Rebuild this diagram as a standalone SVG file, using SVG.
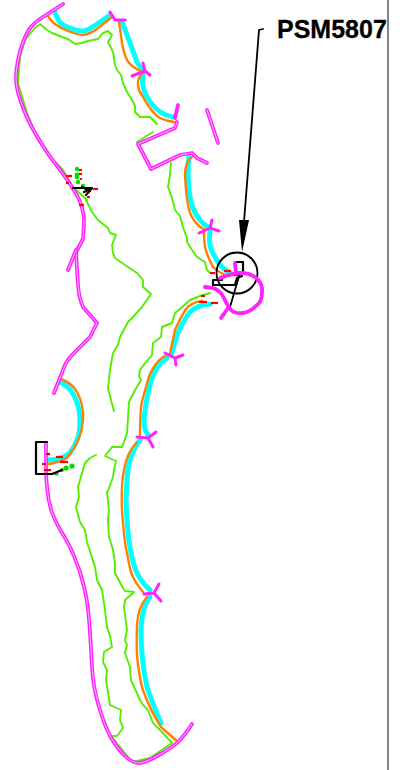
<svg xmlns="http://www.w3.org/2000/svg" width="400" height="770" viewBox="0 0 400 770">
<style>
path,polyline,line{fill:none;stroke-linejoin:round;stroke-linecap:round}
.c{stroke:#00ffff;stroke-width:5}
.o{stroke:#ff8000;stroke-width:2.4}
.g{stroke:#55ee00;stroke-width:1.9}
.m{stroke:#ff22ff;stroke-width:3.8}
.i{stroke:#ffb4ff;stroke-width:1}
.t{stroke:#ff22ff;stroke-width:3}
.h{stroke:#ff22ff;stroke-width:3.8}
.k{stroke:#000;stroke-width:2.2}
.r{stroke:#ff0000;stroke-width:2.2;stroke-linecap:butt}
.d{fill:#00dd00}
</style>
<defs>
<path id="coastA" d="M63,4 L41.5,18 Q35,22 31,27 Q27,32 23.5,41 Q20,50 18,60 Q16,70 16,77.5 Q16,85 18,92.5 Q20,100 23.5,109 Q27,118 31.5,126.5 Q36,135 43,146 Q50,157 56,164.5 Q62,172 67,179.5 Q72,187 76,193.5 Q80,200 82,207.5 Q84,215 84,220 Q84,225 83.5,232 L83,239 L76,252 L78,285 Q79,298 83,307 L97,323 L90,337 L72,355 Q66,361 63,370 L54,393"/>
<path id="coastB" d="M46,443 L46,470 Q46,478 47,486.5 Q48,500 51.5,511 Q55,522 61.5,532 Q68,542 74,556 Q80,570 84,586.5 Q88,603 89.5,625 Q91,647 92,667 Q93,687 99,707 Q105,727 111,737.5 Q117,748 124.5,755.5 Q132,763 138.5,763 Q145,763 159,755 Q173,747 179,741 Q185,735 192,724"/>
<path id="spur" d="M76,250 L68,270"/>
<path id="box" d="M177,122 L175,128 L138,144 L151,169 L180,155 L192,153 L197,158 L207,163"/>
<path id="bar" d="M207,110 L218,143"/>
</defs>
<g id="water">
<path class="c" d="M55,12 Q58,22 63,25 Q68,28 75,30 Q82,32 87,30 Q92,28 110,15"/>
<path class="c" d="M122,22 L130,43 L137,62 Q139,66 143,70"/>
<path class="c" d="M143,75 Q141,85 146,95 Q150,103 156.5,109 Q163,115 173,117"/>
<path class="c" d="M189,157 Q187,170 189,190 Q191,210 200,220 Q204,225 208,227"/>
<path class="c" d="M210,232 Q208,247 214,255 Q220,268 230,273"/>
<path class="c" d="M210,304 Q197,305 190,312 Q183,321 178,333 L171,355"/>
<path class="c" d="M167,358 Q157,364 152,378 Q146,397 144,420 Q144,430 148,435"/>
<path class="c" d="M140,440 Q128,455 127,480 L126,500 Q127,530 130,547 Q133,565 137,573 Q142,583 150,590"/>
<path class="c" d="M150,597 Q142,607 141,630 Q141,660 147,687 Q152,702 161,723"/>
<path class="c" d="M60,382 Q68,386 72,392 Q80,405 80,420 Q81,438 70,453 Q62,460 47,460"/>
</g>
<g id="edge">
<path class="o" d="M48,16 Q52,22 55,24 Q60,28 68,31 Q78,35 83,35 Q90,34 97,29 L112,17"/>
<path class="o" d="M119,22 Q121,34 122,43 Q124,54 127,60 Q130,66 142,72"/>
<path class="o" d="M142,73 Q137,80 138,85 Q139,92 142,95 Q146,103 150,108 Q155,115 160,118 Q166,121 174,122"/>
<path class="o" d="M192,157 Q185,162 185,175 Q186,200 190,213 Q195,225 205,230"/>
<path class="o" d="M204,230 Q204,240 205,247 Q208,258 213,267 Q220,274 230,276"/>
<path class="o" d="M202,301 Q192,302 186,309 Q180,318 175,330 L170,353"/>
<path class="o" d="M167,355 Q160,358 156,364 Q149,374 148,380 Q142,400 141,407 Q140,420 140,435"/>
<path class="o" d="M137,442 Q127,452 124,470 Q121,485 122,510 Q124,540 127,553 Q130,570 132,575 Q136,584 143,592"/>
<path class="o" d="M147,597 Q138,607 137,625 Q136,650 138,665 Q141,685 143,690 Q150,710 161,727 L178,742"/>
<path class="o" d="M61,379 Q72,383 77,392 Q84,405 83,420 Q82,440 67,458 Q58,463 48,464"/>
</g>
<g id="contours">
<polyline class="g" points="157,124 150,117 140,117 135,112 135,106 132,100 127,92 123,83 121,75 117,70 115,65 113,52 108,42 112,35 108,31 103,33 98,39 88,41 82,43 75,44 68,39 62,37 52,33 47,30 40,24 35,28 25,40 20,57 18,83 27,113 37,137 50,157 63,170 73,187 87,200"/>
<polyline class="g" points="137,142 153,132"/>
<polyline class="g" points="171,163 170,175 168,187 172,198 175,210 180,216 183,227 187,238 187,242 192,250 197,257 205,262 207,270 210,273"/>
<polyline class="g" points="86,200 92,212 98,220 108,228 110,233 116,235 112,245 113,253 115,258 125,265 137,273 143,280 143,287 151,294 142,307 133,317 128,322 120,337 118,345 113,353 110,370 108,388 111,400 114,411"/>
<polyline class="g" points="210,293 200,296 190,300 180,309 175,313 172,323 162,327 161,337 153,343 152,355 146,362 140,370 139,376 141,380 134,392 129,402 128,418 127,433 124,442 122,447 112,447 105,456 116,461 114,470 113,477 108,491 107,492 109,510 108,520 109,537 113,550 115,563 115,573 123,588 125,591 134,592 125,600 124,607 127,630 125,640 127,645 125,653 130,667 131,680 140,700 143,705 148,710 153,723 163,733 172,743 150,758 132,762 112,737"/>
<polyline class="g" points="96,455 90,458 85,463 80,480 78,487 79,497 76,507 80,522 85,530 87,542 95,567 97,580 102,590 105,610 107,627 110,636 112,647 104,652 103,662 107,670 106,680 110,705 121,710 120,720 123,728 117,736 112,736"/>
</g>
<g id="coast">
<use href="#coastA" class="m"/><use href="#coastA" class="i"/>
<use href="#coastB" class="m"/><use href="#coastB" class="i"/>
<use href="#spur" class="m"/><use href="#spur" class="i"/>
<use href="#box" class="m"/><use href="#box" class="i"/>
<use href="#bar" class="m"/><use href="#bar" class="i"/>
<polyline class="t" points="110,12 115,20 125,20"/>
<polyline class="m" points="175,118 178,105"/>
<polyline class="t" points="132,76 145,71 143,63 145,71 150,75"/>
<polyline class="t" points="199,233 210,228 212,220 210,228 219,231"/>
<polyline class="t" points="165,353 175,358 183,355 175,358 176,365"/>
<polyline class="t" points="137,437 148,438 156,432 148,438 153,447"/>
<polyline class="t" points="144,594 154,593 159,584 154,593 161,601"/>
</g>
<g id="markers">
<line class="r" x1="66" y1="176" x2="72" y2="176"/><line class="r" x1="79" y1="170" x2="82" y2="170"/><line class="r" x1="79" y1="174" x2="82" y2="174"/><line class="r" x1="80" y1="179" x2="82" y2="179"/><line class="r" x1="66" y1="183" x2="69" y2="183"/><line class="r" x1="93" y1="189" x2="98" y2="189"/><line class="r" x1="87" y1="197" x2="90" y2="197"/><line class="r" x1="79" y1="205" x2="84" y2="205"/>
<line class="r" x1="46" y1="454" x2="50" y2="454"/><line class="r" x1="56" y1="457" x2="63" y2="457"/><line class="r" x1="42" y1="464" x2="46" y2="464"/><line class="r" x1="60" y1="462" x2="68" y2="462"/><line class="r" x1="44" y1="470" x2="51" y2="470"/><line class="r" x1="55" y1="474" x2="58" y2="474"/>
<line class="r" x1="210" y1="273" x2="215" y2="273"/><line class="r" x1="224" y1="271" x2="231" y2="271"/><line class="r" x1="230" y1="275" x2="238" y2="275"/><line class="r" x1="201" y1="296" x2="205" y2="296"/><line class="r" x1="199" y1="302" x2="207" y2="302"/><line class="r" x1="211" y1="303" x2="218" y2="303"/><line class="r" x1="221" y1="315" x2="225" y2="315"/><line class="r" x1="252" y1="277" x2="257" y2="277"/>
<circle class="d" cx="77" cy="169" r="2.2"/><circle class="d" cx="77" cy="175" r="2.4"/><circle class="d" cx="77" cy="177" r="2.4"/><circle class="d" cx="78" cy="182" r="2.2"/><circle class="d" cx="83" cy="186" r="2.2"/>
<circle class="d" cx="72" cy="466" r="2.6"/><circle class="d" cx="66" cy="468" r="2.6"/><circle class="d" cx="62" cy="470" r="2"/><circle class="d" cx="57" cy="474" r="1.6"/>
<polyline class="k" points="73,188 92,188 86,195"/><polyline class="k" points="82,187 90,191"/><polyline class="k" points="84,192 90,189"/>
<polyline class="k" points="47,442 36,442 36,474 52,474 62,470"/>
<polyline class="k" points="236,262 243,262 243,272"/>
<polyline class="k" points="222,280 213,280 213,285 235,285 237,278 242,276"/>
</g>
<g id="callout">
<polyline points="263,29 259,30 244,222" style="fill:none;stroke:#000;stroke-width:1.8"/>
<polygon points="239,220 249,220 242,252" fill="#000"/>
<circle cx="237" cy="273" r="20.5" fill="none" stroke="#000" stroke-width="1.8"/>
<line x1="240" y1="273" x2="230" y2="307" stroke="#000" stroke-width="1.8"/>
<text x="277" y="38" font-family="'Liberation Sans',Arial,sans-serif" font-weight="700" font-size="25" fill="#000" stroke="#000" stroke-width="0.3">PSM5807</text>
</g>
<g id="loop">
<path class="h" d="M235,263 L236,273 Q228,275 220,278"/>
<path class="h" d="M236,273 Q248,272 255,277 Q263,283 262,292 Q262,302 257,305 Q250,312 243,313 Q235,314 231,310 Q226,303 224,298 Q220,290 213,288 L205,287"/>
<path class="h" d="M228,308 L221,318"/>
</g>
<line id="border" x1="388" y1="0" x2="388" y2="770" stroke="#333" stroke-width="1.2"/>
</svg>
